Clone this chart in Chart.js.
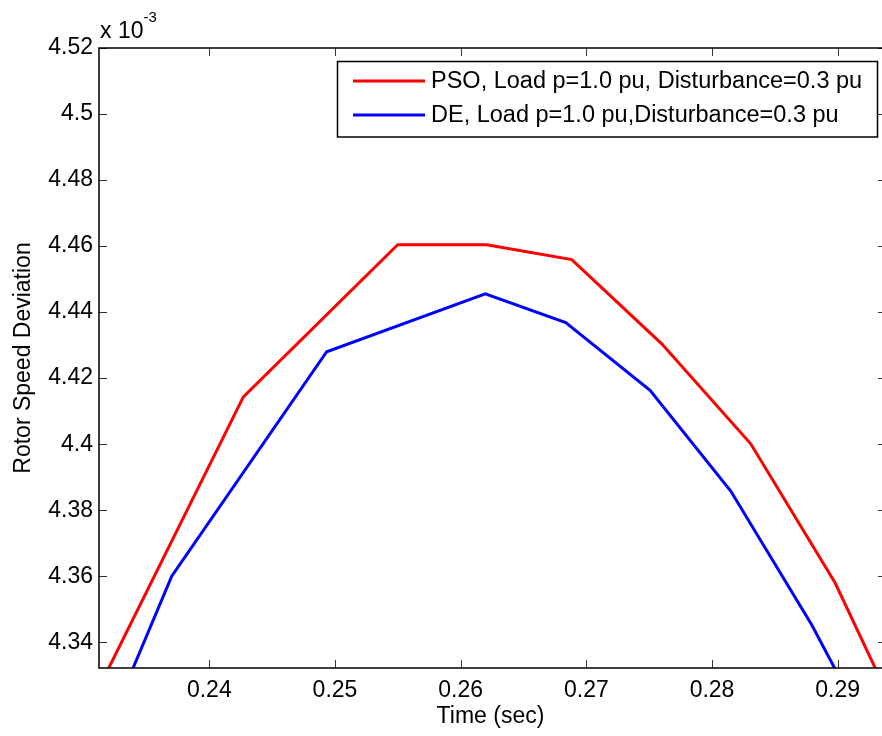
<!DOCTYPE html>
<html>
<head>
<meta charset="utf-8">
<script src="https://cdn.jsdelivr.net/npm/chart.js@4/dist/chart.umd.min.js"></script>
<style>
  html, body { margin: 0; padding: 0; background: #fff; overflow: hidden; }
</style>
</head>
<body>
<canvas id="rotor-chart" width="882" height="736"></canvas>
<script>
// time (sec) and rotor speed deviation (x 10^-3)
// first / last points sit just outside the visible window so the lines run off the axes
const timePSO = [0.2287, 0.24271, 0.25499, 0.26207, 0.26884, 0.27600, 0.28308, 0.28979, 0.2968];
const speedPSO = [4.3069, 4.4143, 4.4604, 4.4604, 4.4559, 4.4304, 4.4001, 4.3580, 4.3014];

const timeDE = [0.2306, 0.23701, 0.24934, 0.26196, 0.26836, 0.27507, 0.28149, 0.28793, 0.2943];
const speedDE = [4.302, 4.3600, 4.4280, 4.4455, 4.4368, 4.4163, 4.3858, 4.3453, 4.2995];

const seriesLabels = ['PSO, Load p=1.0 pu, Disturbance=0.3 pu', 'DE, Load p=1.0 pu,Disturbance=0.3 pu'];
const xTicks = [0.24, 0.25, 0.26, 0.27, 0.28, 0.29];
const yTicks = [4.34, 4.36, 4.38, 4.40, 4.42, 4.44, 4.46, 4.48, 4.50, 4.52];

const FONT = 'Liberation Sans, Arial, Helvetica, sans-serif';

// draw a matlab style box with inward ticks, the exponent and the legend
// (the right side of the box is cut off by the picture edge, only tick stubs show)
const matlabBox = {
  id: 'matlabBox',
  afterDatasetsDraw(chart) {
    const ctx = chart.ctx;
    const a = chart.chartArea;
    const xs = chart.scales.x;
    const ys = chart.scales.y;
    const tl = 8;

    ctx.save();
    ctx.strokeStyle = '#333';
    ctx.lineWidth = 1;
    ctx.beginPath();
    xTicks.forEach(function (v) {
      const px = Math.round(xs.getPixelForValue(v)) + 0.5;
      ctx.moveTo(px, a.bottom); ctx.lineTo(px, a.bottom - tl);
      ctx.moveTo(px, a.top); ctx.lineTo(px, a.top + tl);
    });
    yTicks.forEach(function (v) {
      const py = Math.round(ys.getPixelForValue(v)) + 0.5;
      ctx.moveTo(a.left, py); ctx.lineTo(a.left + tl, py);
      ctx.moveTo(a.right, py); ctx.lineTo(a.right - 4, py);
    });
    ctx.stroke();

    ctx.strokeStyle = '#000';
    ctx.lineWidth = 1.5;
    ctx.beginPath();
    ctx.moveTo(a.right + 2, a.top);
    ctx.lineTo(a.left, a.top);
    ctx.lineTo(a.left, a.bottom);
    ctx.lineTo(a.right + 2, a.bottom);
    ctx.stroke();

    // exponent label
    ctx.fillStyle = '#000';
    ctx.textBaseline = 'alphabetic';
    ctx.textAlign = 'left';
    ctx.font = '23px ' + FONT;
    ctx.fillText('x 10', a.left + 1, 38);
    const w = ctx.measureText('x 10').width;
    ctx.font = '15px ' + FONT;
    ctx.fillText('-3', a.left + 1 + w, 22);

    // legend
    const lx = 337.5, ly = 61.5, lw = 540, lh = 75.5;
    ctx.fillStyle = '#fff';
    ctx.fillRect(lx, ly, lw, lh);
    ctx.strokeStyle = '#000';
    ctx.lineWidth = 1.5;
    ctx.strokeRect(lx, ly, lw, lh);
    const rows = [81, 115];
    chart.data.datasets.forEach(function (ds, i) {
      ctx.strokeStyle = ds.borderColor;
      ctx.lineWidth = 3;
      ctx.beginPath();
      ctx.moveTo(353, rows[i]);
      ctx.lineTo(425, rows[i]);
      ctx.stroke();
      ctx.fillStyle = '#000';
      ctx.font = '23.5px ' + FONT;
      ctx.textBaseline = 'middle';
      ctx.fillText(ds.label, 431, rows[i] + 1);
    });
    ctx.restore();
  }
};

function toPoints(xs, ys) {
  return xs.map(function (x, i) { return { x: x, y: ys[i] }; });
}

const ctx = document.getElementById('rotor-chart').getContext('2d');
new Chart(ctx, {
  type: 'line',
  data: {
    datasets: [{
      label: seriesLabels[0],
      data: toPoints(timePSO, speedPSO),
      borderColor: '#ff0000',
      borderWidth: 3,
      pointRadius: 0,
      tension: 0,
      fill: false
    }, {
      label: seriesLabels[1],
      data: toPoints(timeDE, speedDE),
      borderColor: '#0000ff',
      borderWidth: 3,
      pointRadius: 0,
      tension: 0,
      fill: false
    }]
  },
  options: {
    responsive: false,
    animation: false,
    devicePixelRatio: 1,
    layout: { padding: { top: 48, right: 0, left: 0, bottom: 0 } },
    plugins: {
      legend: { display: false },
      tooltip: { enabled: false }
    },
    scales: {
      x: {
        type: 'linear',
        min: 0.231224,
        max: 0.293525,
        border: { display: false },
        grid: { display: false, drawTicks: false },
        afterBuildTicks: function (scale) {
          scale.ticks = xTicks.map(function (v) { return { value: v }; });
        },
        afterFit: function (scale) { scale.height = 68; },
        ticks: {
          padding: 9,
          color: '#000',
          maxRotation: 0,
          font: { family: FONT, size: 23 },
          callback: function (v) { return String(+v.toFixed(2)); }
        },
        title: {
          display: true,
          text: 'Time (sec)',
          color: '#000',
          font: { family: FONT, size: 23 },
          padding: { top: 0, bottom: 6 }
        }
      },
      y: {
        type: 'linear',
        min: 4.3322,
        max: 4.52,
        border: { display: false },
        grid: { display: false, drawTicks: false },
        afterBuildTicks: function (scale) {
          scale.ticks = yTicks.map(function (v) { return { value: v }; });
        },
        afterFit: function (scale) { scale.width = 99; },
        ticks: {
          padding: 6,
          color: '#000',
          font: { family: FONT, size: 23 },
          callback: function (v) { return String(+v.toFixed(2)); }
        },
        title: {
          display: true,
          text: 'Rotor Speed Deviation',
          color: '#000',
          font: { family: FONT, size: 23 },
          padding: { top: 10, bottom: 0 }
        }
      }
    }
  },
  plugins: [matlabBox]
});
</script>
</body>
</html>
